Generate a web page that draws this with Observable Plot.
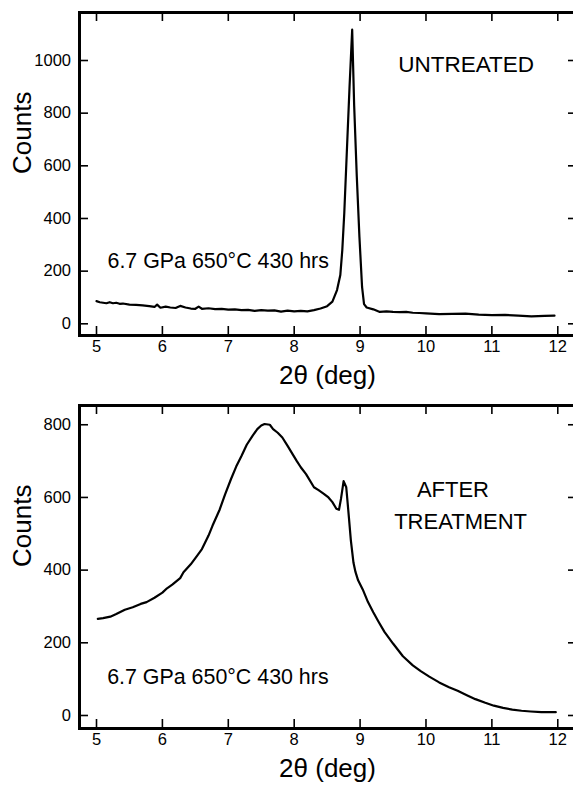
<!DOCTYPE html>
<html>
<head>
<meta charset="utf-8">
<script src="https://cdn.jsdelivr.net/npm/d3@7"></script>
<script src="https://cdn.jsdelivr.net/npm/@observablehq/plot@0.6"></script>
<style>
  body { margin: 0; background: #fff; }
  svg { display: block; }
</style>
</head>
<body>
<div id="chart"></div>
<script>
// ---------- data ----------
const xTicks = [5, 6, 7, 8, 9, 10, 11, 12];
const topYTicks = [0, 200, 400, 600, 800, 1000];
const botYTicks = [0, 200, 400, 600, 800];

const topTheta = [5.0, 5.05, 5.1, 5.15, 5.2, 5.25, 5.3, 5.35, 5.4, 5.5, 5.6, 5.7, 5.8, 5.88, 5.92, 5.97,
  6.05, 6.12, 6.2, 6.27, 6.35, 6.43, 6.5, 6.55, 6.6, 6.7, 6.8, 6.9, 7.0, 7.1, 7.2, 7.3, 7.4, 7.5, 7.6,
  7.7, 7.8, 7.9, 8.0, 8.1, 8.2, 8.3, 8.4, 8.5, 8.58, 8.65, 8.7, 8.73, 8.76, 8.8, 8.84, 8.88, 8.91, 8.95,
  8.99, 9.03, 9.06, 9.1, 9.2, 9.3, 9.4, 9.5, 9.6, 9.7, 9.8, 9.9, 10.0, 10.2, 10.4, 10.6, 10.8, 11.0,
  11.2, 11.4, 11.6, 11.8, 11.95];
const topCounts = [86, 82, 80, 78, 82, 78, 80, 76, 77, 73, 72, 70, 67, 64, 73, 61,
  65, 62, 60, 68, 62, 58, 57, 65, 57, 59, 56, 57, 54, 55, 52, 53, 49, 52, 50,
  51, 46, 50, 47, 49, 47, 52, 58, 67, 84, 128, 185, 280, 420, 660, 900, 1117, 830, 560,
  330, 140, 75, 62, 55, 45, 47, 45, 44, 45, 42, 41, 40, 37, 38, 39, 35, 33,
  34, 31, 28, 30, 31];

const botTheta = [5.02, 5.1, 5.21, 5.3, 5.43, 5.55, 5.67, 5.76, 5.88, 6.0, 6.07, 6.15, 6.27, 6.32, 6.43,
  6.52, 6.6, 6.7, 6.76, 6.87, 6.95, 7.04, 7.12, 7.2, 7.28, 7.37, 7.44, 7.5, 7.55, 7.63, 7.68, 7.75,
  7.82, 7.9, 7.98, 8.04, 8.1, 8.18, 8.3, 8.37, 8.45, 8.52, 8.58, 8.64, 8.68, 8.71, 8.75, 8.79, 8.83,
  8.86, 8.9, 8.93, 8.97, 9.04, 9.12, 9.2, 9.28, 9.37, 9.5, 9.65, 9.8, 9.92, 10.05, 10.2, 10.35,
  10.48, 10.62, 10.75, 10.9, 11.03, 11.17, 11.31, 11.45, 11.59, 11.75, 11.97];
const botCounts = [266, 268, 272, 279, 291, 298, 307, 312, 324, 338, 350, 360, 378, 394, 416,
  438, 458, 495, 522, 567, 608, 650, 685, 714, 745, 770, 788, 798, 802, 800, 788, 778,
  765, 742, 718, 700, 683, 664, 628, 620, 610, 600, 587, 569, 566, 596, 645, 628, 546,
  482, 420, 395, 372, 347, 312, 284, 258, 230, 198, 163, 138, 122, 107, 91, 78,
  68, 56, 45, 35, 27, 21, 16, 13, 11, 9, 9];

const xLabel = "2θ (deg)";
const yLabel = "Counts";
const conditionText = "6.7 GPa 650°C 430 hrs";
const topTag = ["UNTREATED"];
const botTag = ["AFTER", "TREATMENT"];

// ---------- build ----------
const FONT = '"Liberation Sans", Arial, Helvetica, sans-serif';
const toRows = (xs, ys) => xs.map((x, i) => ({theta: x, counts: ys[i]}));

function panel({rows, yDomain, yTicks, marginTop, marginBottom, notes}) {
  return Plot.plot({
    width: 573,
    height: 395,
    marginLeft: 79,
    marginRight: -2,
    marginTop,
    marginBottom,
    style: {fontFamily: FONT, fontSize: "16px", color: "#000", background: "#fff", overflow: "visible"},
    x: {domain: [4.742, 12.269]},
    y: {domain: yDomain},
    marks: [
      Plot.frame({stroke: "#000", strokeWidth: 3}),
      Plot.axisX({anchor: "bottom", ticks: xTicks, tickSize: -9, tickPadding: 14, strokeWidth: 1.6,
        tickFormat: d3.format("d"), fontSize: 16.5, label: null}),
      Plot.axisX({anchor: "top", ticks: xTicks, tickSize: -8, strokeWidth: 1.6,
        tickFormat: () => "", label: null}),
      Plot.axisY({anchor: "left", ticks: yTicks, tickSize: -9, tickPadding: 17.5, strokeWidth: 1.6,
        tickFormat: d3.format("d"), fontSize: 16.5, label: null}),
      Plot.axisY({anchor: "right", ticks: yTicks, tickSize: -8, strokeWidth: 1.6,
        tickFormat: () => "", label: null}),
      Plot.line(rows, {x: "theta", y: "counts", stroke: "#000", strokeWidth: 2.2, strokeLinejoin: "round"}),
      Plot.text([yLabel], {text: d => d, frameAnchor: "left", rotate: -90, dx: -57, fontSize: 26}),
      Plot.text([xLabel], {text: d => d, frameAnchor: "bottom", lineAnchor: "bottom", dy: 48, fontSize: 26}),
      ...notes
    ]
  });
}

const topPanel = panel({
  rows: toRows(topTheta, topCounts),
  yDomain: [-44.4, 1182.3],
  yTicks: topYTicks,
  marginTop: 12,
  marginBottom: 60,
  notes: [
    Plot.text([{x: 5.167, y: 211, t: conditionText}], {x: "x", y: "y", text: "t", textAnchor: "start", lineAnchor: "bottom", fontSize: 21.4}),
    Plot.text([{x: 10.61, y: 955, t: topTag[0]}], {x: "x", y: "y", text: "t", textAnchor: "middle", lineAnchor: "bottom", fontSize: 22.5})
  ]
});

const bottomPanel = panel({
  rows: toRows(botTheta, botCounts),
  yDomain: [-35.8, 853],
  yTicks: botYTicks,
  marginTop: 10,
  marginBottom: 62,
  notes: [
    Plot.text([{x: 5.162, y: 87, t: conditionText}], {x: "x", y: "y", text: "t", textAnchor: "start", lineAnchor: "bottom", fontSize: 21.4}),
    Plot.text([{x: 9.862, y: 600, t: botTag[0]}, {x: 9.517, y: 512, t: botTag[1]}], {x: "x", y: "y", text: "t", textAnchor: "start", lineAnchor: "bottom", fontSize: 22})
  ]
});

document.getElementById("chart").append(topPanel, bottomPanel);
</script>
</body>
</html>
